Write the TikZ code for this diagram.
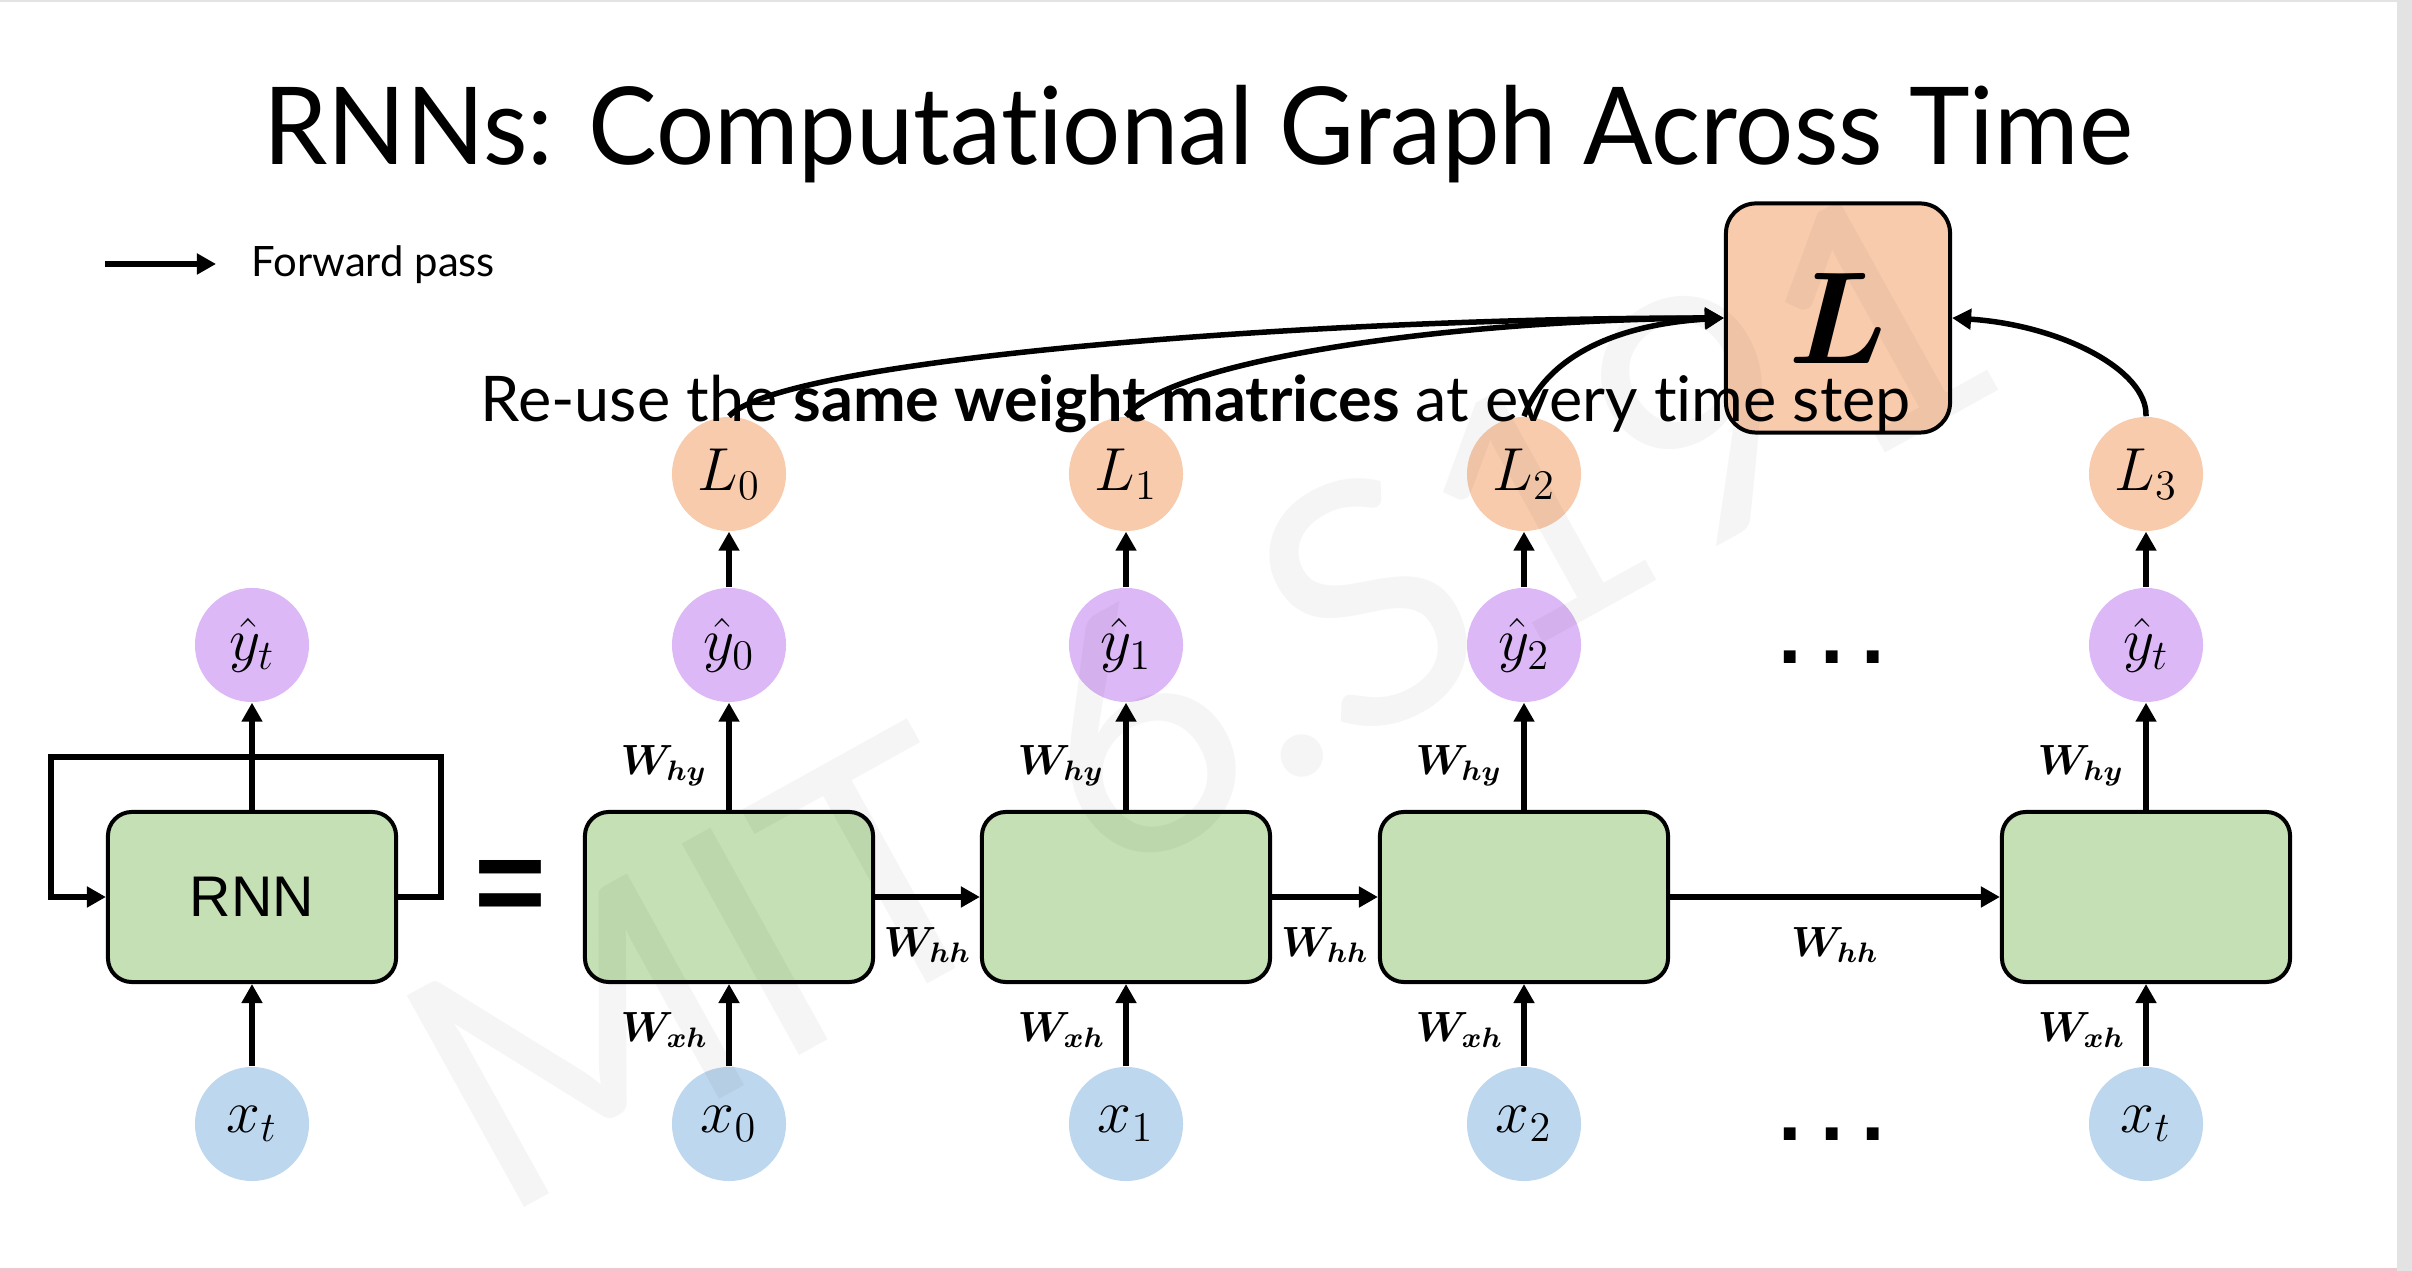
\documentclass[tikz,border=0pt]{standalone}
\usepackage{fontspec}
\setmainfont{Lato}[Ligatures=NoCommon]
\newfontfamily\arialf{Liberation Sans}
\newfontfamily\dejaf{DejaVu Sans}
\usepackage{amsmath}
\usepackage{bm}
\usetikzlibrary{arrows.meta}
\definecolor{cellgreen}{HTML}{C5E0B4}
\definecolor{inblue}{HTML}{BDD7EE}
\definecolor{outlav}{HTML}{DDB8F7}
\definecolor{losspeach}{HTML}{F8CBAD}
\definecolor{edgegray}{HTML}{E3E3E3}
\definecolor{pinkline}{HTML}{F2C4CE}
\begin{document}
\begin{tikzpicture}[x=0.01cm,y=-0.01cm,
  cell/.style={draw=black,line width=0.04cm,fill=cellgreen,rounded corners=0.24cm,
    minimum width=2.88cm,minimum height=1.70cm,inner sep=0pt},
  circ/.style={circle,inner sep=0pt,minimum size=1.14cm,font=\fontsize{18}{21}\selectfont},
  xin/.style={circ,fill=inblue},
  yout/.style={circ,fill=outlav},
  lossc/.style={circ,fill=losspeach},
  arr/.style={line width=0.055cm,-{Triangle[length=0.19cm,width=0.2cm]}},
  wlab/.style={font=\fontsize{12}{14}\selectfont,inner sep=0pt},
]
\useasboundingbox (0,0) rectangle (2412,1271);
\fill[white] (0,0) rectangle (2412,1271);
\fill[edgegray] (2397,0) rectangle (2412,1271);
\fill[edgegray] (0,0) rectangle (2397,2);
\fill[pinkline] (0,1268) rectangle (2397,1271);

% title and legend
\node[anchor=base,inner sep=0pt,font=\fontsize{30.6}{34}\selectfont] (title) at (1198,165) {\scalebox{0.955}[1]{RNNs: Computational Graph Across Time}};
\coordinate (fa) at (105,264);
\coordinate (fb) at (216,264);
\draw[arr] (fa) -- (fb);
\node[anchor=base west,inner sep=0pt,font=\fontsize{11.9}{14}\selectfont] (fwd) at (251,277) {Forward pass};

% cells
\node[cell] (hl) at (252,897) {\arialf\fontsize{16.3}{18}\selectfont RNN};
\node[cell] (h0) at (729,897) {};
\node[cell] (h1) at (1126,897) {};
\node[cell] (h2) at (1524,897) {};
\node[cell] (h3) at (2146,897) {};

% inputs
\node[xin] (xl) at (252,1124) {$x_t$};
\node[xin] (x0) at (729,1124) {$x_0$};
\node[xin] (x1) at (1126,1124) {$x_1$};
\node[xin] (x2) at (1524,1124) {$x_2$};
\node[xin] (x3) at (2146,1124) {$x_t$};

% outputs
\node[yout] (yl) at (252,645) {$\hat{y}_t$};
\node[yout] (y0) at (729,645) {$\hat{y}_0$};
\node[yout] (y1) at (1126,645) {$\hat{y}_1$};
\node[yout] (y2) at (1524,645) {$\hat{y}_2$};
\node[yout] (y3) at (2146,645) {$\hat{y}_t$};

% losses
\node[lossc] (l0) at (729,474) {$L_0$};
\node[lossc] (l1) at (1126,474) {$L_1$};
\node[lossc] (l2) at (1524,474) {$L_2$};
\node[lossc] (l3) at (2146,474) {$L_3$};

\node[draw=black,line width=0.04cm,fill=losspeach,rounded corners=0.3cm,
  minimum width=2.24cm,minimum height=2.29cm,inner sep=0pt] (Lb) at (1838,318)
  {\scalebox{1.5}{\fontsize{24.88}{28}\selectfont$\bm{L}$}};

\node[anchor=base west,inner sep=0pt,font=\fontsize{17.9}{20}\selectfont] (reuse) at (480,422)
  {Re-use the \textbf{same weight matrices} at every time step};

% equals and dots
\node[inner sep=0pt,font=\arialf\bfseries\fontsize{35}{40}\selectfont] (eq) at (510,893) {=};
\node[inner sep=0pt,font=\dejaf\bfseries\fontsize{19}{20}\selectfont] (dots1) at (1832,657) {.\hspace{0.16cm}.\hspace{0.16cm}.};
\node[inner sep=0pt,font=\dejaf\bfseries\fontsize{19}{20}\selectfont] (dots2) at (1832,1134) {.\hspace{0.16cm}.\hspace{0.16cm}.};

% vertical arrows
\foreach \i in {l,0,1,2,3} {
  \draw[arr] (x\i) -- (h\i);
  \draw[arr] (h\i) -- (y\i);
}
\foreach \i in {0,1,2,3} {
  \draw[arr] (y\i) -- (l\i);
}

% recurrent loop
\coordinate (lpR) at (441,757);
\coordinate (lpL) at (51,757);
\draw[arr] (hl.east) -| (lpR) -- (lpL) |- (hl.west);

% horizontal arrows
\draw[arr] (h0) -- node[wlab,yshift=-0.48cm] (whh0) {$\bm{W}_{\bm{hh}}$} (h1);
\draw[arr] (h1) -- node[wlab,yshift=-0.48cm] (whh1) {$\bm{W}_{\bm{hh}}$} (h2);
\draw[arr] (h2) -- node[wlab,yshift=-0.48cm] (whh2) {$\bm{W}_{\bm{hh}}$} (h3);

\foreach \c/\n in {729/0,1126/1,1524/2,2146/3} {
  \node[wlab,anchor=east] (why\n) at (\c-21,766) {$\bm{W}_{\bm{hy}}$};
  \node[wlab,anchor=east] (wxh\n) at (\c-20,1030) {$\bm{W}_{\bm{xh}}$};
}

% loss curves
\draw[arr] (l0.north) .. controls (780,360) and (1300,318) .. (Lb.west);
\draw[arr] (l1.north) .. controls (1170,360) and (1450,320) .. (Lb.west);
\draw[arr] (l2.north) .. controls (1545,360) and (1610,325) .. (Lb.west);
\draw[arr] (l3.north) .. controls (2148,370) and (2060,325) .. (Lb.east);

% watermark (faint, on top)
\node[rotate=29,opacity=0.04,inner sep=0pt,font=\fontsize{96}{100}\selectfont] (wm) at (1200,695) {MIT 6.S191};
\end{tikzpicture}
\end{document}
